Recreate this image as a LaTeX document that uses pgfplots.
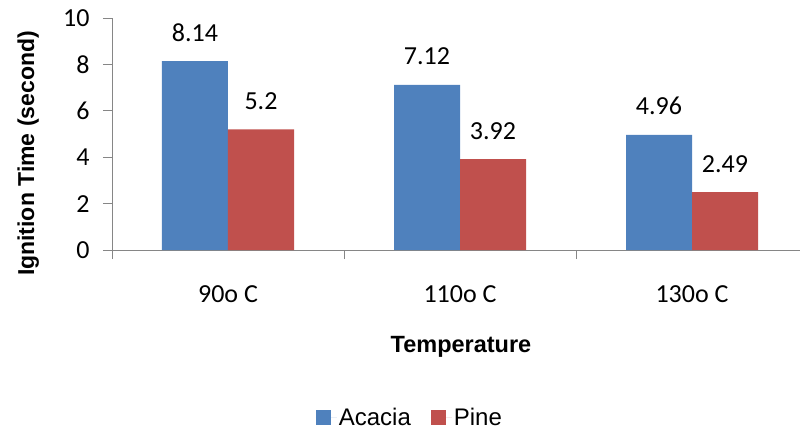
\documentclass[border=0pt]{standalone}
\usepackage{fontspec}
\setmainfont{Carlito}
\newfontfamily\arial{Liberation Sans}
\usepackage{pgfplots}
\pgfplotsset{compat=1.18}
\definecolor{cblue}{HTML}{4F81BD}
\definecolor{cred}{HTML}{C0504D}
\definecolor{axgray}{HTML}{868686}
\begin{document}
\begin{tikzpicture}
\begin{axis}[
  at={(0pt,0pt)}, anchor=south west,
  scale only axis,
  width=696pt, height=232pt,
  xmin=-0.5, xmax=2.5,
  ymin=0, ymax=10,
  ytick={0,2,4,6,8,10},
  xtick={-0.5,0.5,1.5,2.5},
  xticklabels={},
  extra x ticks={0,1,2},
  extra x tick labels={90o C,110o C,130o C},
  extra x tick style={major tick length=0pt, xticklabel style={anchor=base, yshift=-52pt}},
  axis x line*=bottom, axis y line*=left,
  axis line style={axgray, line width=0.8pt, -},
  tick align=outside,
  major tick length=9pt,
  tick style={axgray, line width=0.8pt},
  ticklabel style={font=\fontsize{26}{30}\selectfont},
  yticklabel style={xshift=-10pt},
  /pgf/number format/assume math mode=true,
  ybar=0pt, bar width=66pt,
  nodes near coords={\pgfmathprintnumber[fixed,precision=2]{\pgfplotspointmeta}},
  every node near coord/.append style={font=\fontsize{26}{30}\selectfont, anchor=base, yshift=20pt, black},
  xlabel={\arial\bfseries Temperature},
  ylabel={\arial\bfseries Ignition Time (second)},
  xlabel style={font=\fontsize{23.5}{27}\selectfont, at={(axis description cs:0.5014,-0.4397)}, anchor=base},
  ylabel style={font=\fontsize{23}{27}\selectfont, at={(axis description cs:-0.112,0.416)}, anchor=base},
  legend columns=2,
  legend style={draw=none, fill=none, font=\arial\fontsize{24}{26}\selectfont,
    at={(axis description cs:0.428,-0.724)}, anchor=center,
    /tikz/every even column/.append style={column sep=18pt}},
  legend image code/.code={\fill[#1] (0pt,-7.5pt) rectangle (15pt,7.5pt); \path (0pt,0pt) -- (21pt,0pt);},
]
\addplot[fill=cblue, draw=none] coordinates {(0,8.14) (1,7.12) (2,4.96)};
\addplot[fill=cred, draw=none] coordinates {(0,5.2) (1,3.92) (2,2.49)};
\legend{Acacia,Pine}
\end{axis}
\pgfresetboundingbox
\path (-112pt,-182pt) rectangle (688pt,250pt);
\end{tikzpicture}
\end{document}
